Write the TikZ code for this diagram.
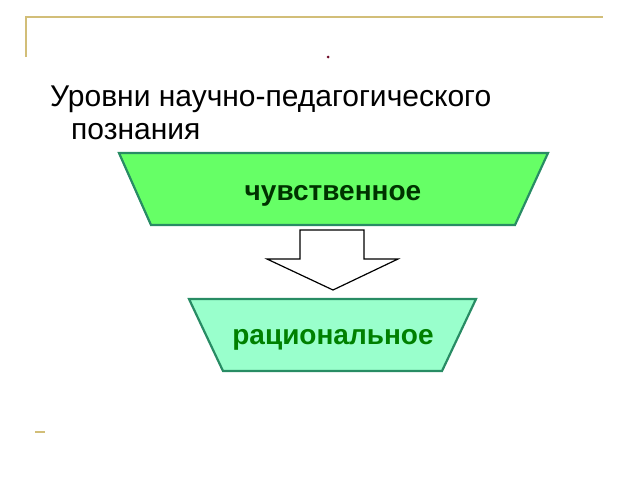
\documentclass[tikz,border=0pt]{standalone}
\usepackage{fontspec}
\setmainfont{Liberation Sans}
\definecolor{frame}{RGB}{210,190,120}
\definecolor{edge}{RGB}{40,140,100}
\definecolor{fillA}{RGB}{102,255,102}
\definecolor{fillB}{RGB}{153,255,204}
\definecolor{txtA}{RGB}{0,51,0}
\definecolor{txtB}{RGB}{0,128,0}
\definecolor{dotc}{RGB}{110,10,40}
\tikzset{
  trap/.style={draw=edge, line width=2.2pt},
  lbl/.style={font=\fontsize{28}{32}\selectfont\bfseries, inner sep=0pt, anchor=base},
  ttl/.style={anchor=base west, inner sep=0pt, font=\fontsize{30}{34}\selectfont},
}
\begin{document}
\begin{tikzpicture}[x=1pt,y=-1pt]
\useasboundingbox (0,0) rectangle (640,480);
% frame lines
\draw[frame, line width=2pt] (26,57) -- (26,17) -- (603,17);
\draw[frame, line width=1.5pt] (35,432) -- (45,432);
\fill[dotc] (328,57) circle (1.5);
% title
\node[ttl] (t1) at (50,106) {Уровни научно-педагогического};
\node[ttl] (t2) at (71,139) {познания};
% trapezoid 1
\draw[trap, fill=fillA] (119,153) -- (548,153) -- (515,225) -- (151,225) -- cycle;
\node[lbl, text=txtA] (a) at (333,200) {чувственное};
% arrow
\draw[black, line width=1.2pt, fill=white] (300,230) -- (364,230) -- (364,259) -- (398,259) -- (333,290) -- (267,259) -- (300,259) -- cycle;
% trapezoid 2
\draw[trap, fill=fillB] (189,299) -- (476,299) -- (442,371) -- (223,371) -- cycle;
\node[lbl, text=txtB] (b) at (333,344) {рациональное};
\end{tikzpicture}
\end{document}
